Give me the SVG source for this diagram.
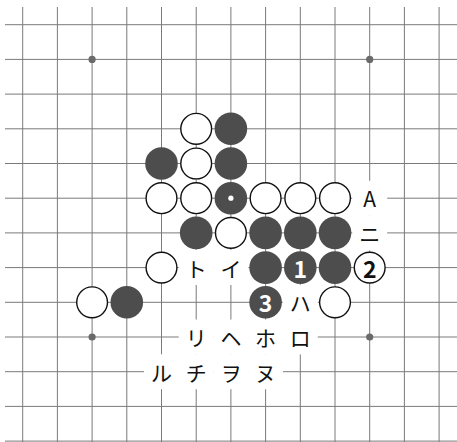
<svg xmlns="http://www.w3.org/2000/svg" width="457" height="442" viewBox="0 0 457 442">
<style>
.grid line{stroke:#7a7a7a;stroke-width:1}
.hoshi{fill:#6a6a6a}
.b{fill:#4d4d4d}
.w{fill:#fff;stroke:#111;stroke-width:1.4}
.bg{fill:#fff}
.lbl{font-family:"Noto Sans CJK JP","Noto Sans",sans-serif;font-size:21px;fill:#111;text-anchor:middle;dominant-baseline:central}
.num{font-family:"Noto Sans CJK JP","Noto Sans",sans-serif;font-size:23px;font-weight:bold;text-anchor:middle;dominant-baseline:central}
</style>
<rect width="457" height="442" fill="#fff"/>
<g id="connectors" class="grid">
<line x1="22.7" y1="7" x2="22.7" y2="442"/>
<line x1="57.4" y1="7" x2="57.4" y2="442"/>
<line x1="92.1" y1="7" x2="92.1" y2="442"/>
<line x1="126.8" y1="7" x2="126.8" y2="442"/>
<line x1="161.5" y1="7" x2="161.5" y2="442"/>
<line x1="196.2" y1="7" x2="196.2" y2="442"/>
<line x1="230.9" y1="7" x2="230.9" y2="442"/>
<line x1="265.6" y1="7" x2="265.6" y2="442"/>
<line x1="300.3" y1="7" x2="300.3" y2="442"/>
<line x1="335" y1="7" x2="335" y2="442"/>
<line x1="369.7" y1="7" x2="369.7" y2="442"/>
<line x1="404.4" y1="7" x2="404.4" y2="442"/>
<line x1="439.1" y1="7" x2="439.1" y2="442"/>
<line x1="5" y1="24.7" x2="457" y2="24.7"/>
<line x1="5" y1="59.4" x2="457" y2="59.4"/>
<line x1="5" y1="94.1" x2="457" y2="94.1"/>
<line x1="5" y1="128.8" x2="457" y2="128.8"/>
<line x1="5" y1="163.5" x2="457" y2="163.5"/>
<line x1="5" y1="198.2" x2="457" y2="198.2"/>
<line x1="5" y1="232.9" x2="457" y2="232.9"/>
<line x1="5" y1="267.6" x2="457" y2="267.6"/>
<line x1="5" y1="302.3" x2="457" y2="302.3"/>
<line x1="5" y1="337" x2="457" y2="337"/>
<line x1="5" y1="371.7" x2="457" y2="371.7"/>
<line x1="5" y1="406.4" x2="457" y2="406.4"/>
<line x1="5" y1="441.1" x2="457" y2="441.1"/>
</g>
<g id="hoshi">
<circle class="hoshi" cx="92.1" cy="59.4" r="3.6"/>
<circle class="hoshi" cx="369.7" cy="59.4" r="3.6"/>
<circle class="hoshi" cx="92.1" cy="337" r="3.6"/>
<circle class="hoshi" cx="369.7" cy="337" r="3.6"/>
</g>
<g id="stones">
<g id="s-5-3"><circle class="w" cx="196.2" cy="128.8" r="15.4"/></g>
<g id="s-6-3"><circle class="b" cx="230.9" cy="128.8" r="16.3"/></g>
<g id="s-4-4"><circle class="b" cx="161.5" cy="163.5" r="16.3"/></g>
<g id="s-5-4"><circle class="w" cx="196.2" cy="163.5" r="15.4"/></g>
<g id="s-6-4"><circle class="b" cx="230.9" cy="163.5" r="16.3"/></g>
<g id="s-4-5"><circle class="w" cx="161.5" cy="198.2" r="15.4"/></g>
<g id="s-5-5"><circle class="w" cx="196.2" cy="198.2" r="15.4"/></g>
<g id="s-6-5"><circle class="b" cx="230.9" cy="198.2" r="16.3"/><circle cx="230.9" cy="198.2" r="2.6" fill="#fff"/></g>
<g id="s-7-5"><circle class="w" cx="265.6" cy="198.2" r="15.4"/></g>
<g id="s-8-5"><circle class="w" cx="300.3" cy="198.2" r="15.4"/></g>
<g id="s-9-5"><circle class="w" cx="335" cy="198.2" r="15.4"/></g>
<g id="s-5-6"><circle class="b" cx="196.2" cy="232.9" r="16.3"/></g>
<g id="s-6-6"><circle class="w" cx="230.9" cy="232.9" r="15.4"/></g>
<g id="s-7-6"><circle class="b" cx="265.6" cy="232.9" r="16.3"/></g>
<g id="s-8-6"><circle class="b" cx="300.3" cy="232.9" r="16.3"/></g>
<g id="s-9-6"><circle class="b" cx="335" cy="232.9" r="16.3"/></g>
<g id="s-4-7"><circle class="w" cx="161.5" cy="267.6" r="15.4"/></g>
<g id="s-7-7"><circle class="b" cx="265.6" cy="267.6" r="16.3"/></g>
<g id="s-8-7"><circle class="b" cx="300.3" cy="267.6" r="16.3"/><text class="num" x="300.3" y="267.6" fill="#fff">1</text></g>
<g id="s-9-7"><circle class="b" cx="335" cy="267.6" r="16.3"/></g>
<g id="s-10-7"><circle class="w" cx="369.7" cy="267.6" r="15.4"/><text class="num" x="369.7" y="267.6" fill="#111">2</text></g>
<g id="s-2-8"><circle class="w" cx="92.1" cy="302.3" r="15.4"/></g>
<g id="s-3-8"><circle class="b" cx="126.8" cy="302.3" r="16.3"/></g>
<g id="s-7-8"><circle class="b" cx="265.6" cy="302.3" r="16.3"/><text class="num" x="265.6" y="302.3" fill="#fff">3</text></g>
<g id="s-9-8"><circle class="w" cx="335" cy="302.3" r="15.4"/></g>
</g>
<g id="labels">
<g id="l-A"><circle class="bg" cx="369.7" cy="198.2" r="17.5"/><text class="lbl" x="369.7" y="198.2">A</text></g>
<g id="l-ni"><circle class="bg" cx="369.7" cy="232.9" r="17.5"/><text class="lbl" x="369.7" y="232.9">ニ</text></g>
<g id="l-to"><circle class="bg" cx="196.2" cy="267.6" r="17.5"/><text class="lbl" x="196.2" y="267.6">ト</text></g>
<g id="l-i"><circle class="bg" cx="230.9" cy="267.6" r="17.5"/><text class="lbl" x="230.9" y="267.6">イ</text></g>
<g id="l-ha"><circle class="bg" cx="300.3" cy="302.3" r="17.5"/><text class="lbl" x="300.3" y="302.3">ハ</text></g>
<g id="l-ri"><circle class="bg" cx="196.2" cy="337" r="17.5"/><text class="lbl" x="196.2" y="337">リ</text></g>
<g id="l-he"><circle class="bg" cx="230.9" cy="337" r="17.5"/><text class="lbl" x="230.9" y="337">ヘ</text></g>
<g id="l-ho"><circle class="bg" cx="265.6" cy="337" r="17.5"/><text class="lbl" x="265.6" y="337">ホ</text></g>
<g id="l-ro"><circle class="bg" cx="300.3" cy="337" r="17.5"/><text class="lbl" x="300.3" y="337">ロ</text></g>
<g id="l-ru"><circle class="bg" cx="161.5" cy="371.7" r="17.5"/><text class="lbl" x="161.5" y="371.7">ル</text></g>
<g id="l-chi"><circle class="bg" cx="196.2" cy="371.7" r="17.5"/><text class="lbl" x="196.2" y="371.7">チ</text></g>
<g id="l-wo"><circle class="bg" cx="230.9" cy="371.7" r="17.5"/><text class="lbl" x="230.9" y="371.7">ヲ</text></g>
<g id="l-nu"><circle class="bg" cx="265.6" cy="371.7" r="17.5"/><text class="lbl" x="265.6" y="371.7">ヌ</text></g>
</g>
</svg>
